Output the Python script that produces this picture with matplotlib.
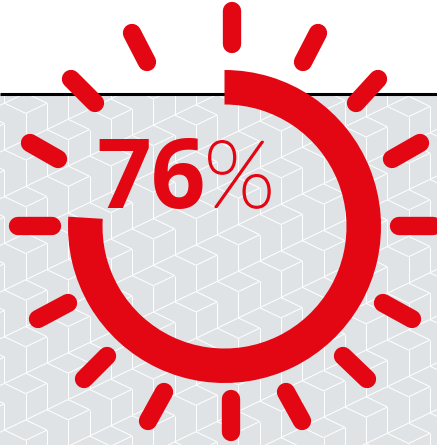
import numpy as np
import matplotlib
matplotlib.use("Agg")
import matplotlib.pyplot as plt
import matplotlib.patheffects as pe
from matplotlib.collections import LineCollection
from matplotlib.patches import Rectangle, Wedge

percent = 76
value_label = "76"
unit_label = "%"

RED = "#e30613"
GREY = "#e0e3e6"
W, H = 437, 445
CX, CY = 224.5, 226.5
R_OUT, R_IN = 156.5, 122

# the sixteen short strokes round the ring, inner and outer end in pixels
ray_x0 = [232, 303, 356, 392, 399, 383, 343, 286, 231, 164, 107, 68, 52, 58, 95, 147]
ray_y0 = [44, 62, 103, 159, 226, 303, 356, 392, 399, 392, 356, 303, 226, 159, 103, 62]
ray_x1 = [232, 318, 378, 420, 433, 412, 367, 302, 231, 148, 84, 38, 18, 30, 71, 132]
ray_y1 = [11, 33, 79, 143, 226, 319, 379, 421, 432, 421, 379, 319, 226, 143, 79, 33]


def cube_lines():
    # isometric cube wallpaper, one rhombus and its right face per lattice point
    segs = []
    hw, hh, drop = 21.28, 10.2, 26.3
    for i in range(-3, 14):
        x = 25.7 + (i * 42.55)
        for j in range(-12, 24):
            y = 336.7 - i * 20.4 + j * 46.7
            if y < 60 or y > H + 20 or x < -30 or x > W + 30:
                continue
            left, top = (x - hw, y), (x, y - hh)
            right, bottom = (x + hw, y), (x, y + hh)
            foot = (x, y + hh + drop)
            right_foot = (x + hw, y + drop)
            segs += [[left, top], [top, right], [right, bottom], [bottom, left]]
            segs += [[bottom, foot], [right, right_foot], [foot, right_foot]]
    return segs


fig = plt.figure(figsize=(W / 100, H / 100), dpi=100)
ax = fig.add_axes([0, 0, 1, 1])
ax.set_xlim(0, W)
ax.set_ylim(H, 0)
ax.axis("off")

ax.add_patch(Rectangle((0, 94), W, H - 94, facecolor=GREY, edgecolor="none", zorder=1))
clip = Rectangle((0, 94), W, H - 94, transform=ax.transData)
lines = LineCollection(cube_lines(), colors="white", linewidths=0.72, zorder=2)
ax.add_collection(lines)
lines.set_clip_path(clip)
ax.plot([0, W], [93.5, 93.5], color="black", lw=2.2, solid_capstyle="butt", zorder=3)

ax.add_patch(Wedge((CX, CY), R_OUT, -90, -90 + 3.6 * percent, width=R_OUT - R_IN,
                   facecolor=RED, edgecolor="none", zorder=4))

for x0, y0, x1, y1 in zip(ray_x0, ray_y0, ray_x1, ray_y1):
    ax.plot([x0, x1], [y0, y1], color=RED, lw=13.2, solid_capstyle="round", zorder=4)

ax.text(96, 208, value_label, color=RED, fontsize=69, family="Open Sans",
        fontweight="bold", ha="left", va="baseline", zorder=5)
ax.text(204, 207, unit_label, color=RED, fontsize=67, family="Lato",
        fontweight="light", ha="left", va="baseline", zorder=5,
        path_effects=[pe.withStroke(linewidth=1.6, foreground=RED)])

fig.savefig("out.png", dpi=100)
